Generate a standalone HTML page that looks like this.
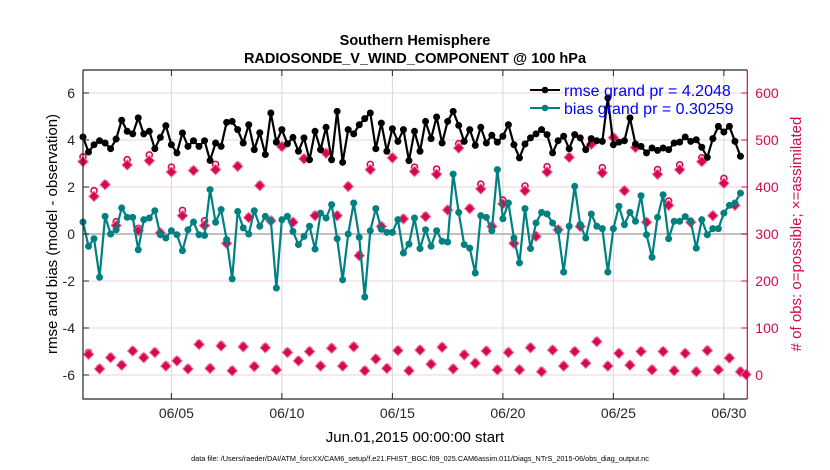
<!DOCTYPE html>
<html><head><meta charset="utf-8"><style>
body{margin:0;background:#fff;}
svg{display:block;font-family:"Liberation Sans",Arial,sans-serif;}
</style></head><body>
<svg id="chart" width="830" height="470" viewBox="0 0 830 470" xmlns="http://www.w3.org/2000/svg">
<text x="415" y="45" text-anchor="middle" font-size="14.5" font-weight="bold">Southern Hemisphere</text>
<text x="415" y="63" text-anchor="middle" font-size="14.5" font-weight="bold">RADIOSONDE_V_WIND_COMPONENT @ 100 hPa</text>
<g id="grid"></g>
<g id="marks"></g>
<g id="axes"></g>
<text transform="translate(57,234) rotate(-90)" text-anchor="middle" font-size="15">rmse and bias (model - observation)</text>
<text transform="translate(801,234) rotate(-90)" text-anchor="middle" font-size="15" fill="#d6084f">#  of obs: o=possible; ×=assimilated</text>
<text x="415" y="442" text-anchor="middle" font-size="15">Jun.01,2015 00:00:00 start</text>
<text x="420" y="461" text-anchor="middle" font-size="7.3">data file: /Users/raeder/DAI/ATM_forcXX/CAM6_setup/f.e21.FHIST_BGC.f09_025.CAM6assim.011/Diags_NTrS_2015-06/obs_diag_output.nc</text>
<g>
<line x1="530" y1="90" x2="560" y2="90" stroke="#000" stroke-width="2"/>
<circle cx="545" cy="90" r="3.3" fill="#000"/>
<text x="564" y="96" font-size="16" fill="#0000ff">rmse grand pr = 4.2048</text>
<line x1="530" y1="108" x2="560" y2="108" stroke="#008080" stroke-width="2"/>
<circle cx="545" cy="108" r="3.3" fill="#008080"/>
<text x="564" y="114" font-size="16" fill="#0000ff">bias grand pr = 0.30259</text>
</g>
</svg>
<script>
const rmse = [4.13,3.49,3.80,3.97,3.87,3.63,4.04,4.84,4.37,4.26,4.94,4.26,4.37,3.63,4.11,4.61,3.80,3.45,4.30,3.73,3.97,3.73,3.97,3.13,3.87,3.73,4.75,4.79,4.44,3.87,
4.65,3.59,4.31,3.38,5.15,3.91,4.44,3.84,4.11,3.52,4.09,3.16,4.37,3.59,4.54,3.16,5.22,3.05,4.44,4.26,4.65,4.91,5.15,3.63,4.72,3.52,4.48,3.94,4.44,3.12,
4.37,3.52,4.79,4.06,4.98,3.87,4.79,5.22,4.62,3.94,4.44,3.77,4.54,3.87,4.20,3.91,4.16,4.65,3.80,3.24,3.83,4.09,4.26,4.44,4.23,3.45,3.97,4.16,3.63,4.23,
4.09,3.59,4.06,3.97,3.94,5.79,3.80,3.91,3.97,4.94,3.83,3.73,3.45,3.66,3.56,3.66,3.59,3.87,3.91,4.13,3.94,4.01,3.69,3.26,4.06,4.58,4.34,4.58,3.94,3.31];
const bias = [0.51,-0.52,-0.20,-1.84,0.75,0,0.18,1.11,0.71,0.71,-0.67,0.61,0.68,0.99,-0.03,-0.17,0.14,-0.03,-0.71,0.18,0.51,-0.03,-0.06,1.89,0.50,1.04,-0.24,-1.91,0.96,0.26,
0,0.99,0.33,0.75,0.57,-2.30,0.61,0.75,0.11,-0.45,-0.10,0.33,-0.64,0.89,0.68,1.25,-0.20,-1.95,0,1.32,-0.14,-2.68,0.14,1.08,0.20,0.07,0.07,0.61,-0.81,-0.43,
0.68,-0.62,0.18,-0.52,0.14,-0.31,-0.34,2.55,0.92,-0.45,-0.60,-1.66,0.78,0.71,0.14,2.74,0.65,1.32,-0.17,-1.23,1.08,-0.62,0.47,0.92,0.85,0.47,0.14,-1.62,0.33,2.03,
0.40,-0.17,0.85,0.33,0.23,-1.62,0.23,1.18,0.40,0.92,0.54,1.63,-0.03,-0.99,0.71,1.67,-0.20,0.54,0.54,0.74,0.54,-0.60,0.61,-0.03,0.23,0.23,0.89,1.22,1.32,1.74];
const nUsed = [454,44,380,13,405,37,318,21,447,51,307,37,456,48,302,19,432,30,339,13,435,65,318,14,437,62,280,9,444,60,
335,18,403,58,328,11,486,48,325,30,460,50,339,19,472,57,339,19,401,60,254,9,437,34,316,14,462,52,332,9,
433,53,337,23,427,59,351,13,483,43,354,25,396,51,316,11,364,48,280,11,392,58,295,7,432,53,309,19,463,50,
316,25,491,71,430,19,505,46,392,21,484,50,325,11,427,50,361,9,437,46,325,7,454,52,339,11,408,36,361,7,1];
const nPoss = [462,46,390,13,405,37,324,21,456,51,310,37,466,48,302,19,440,30,348,13,435,65,326,14,446,62,280,9,444,60,
335,18,403,58,328,11,486,48,325,30,460,50,339,19,472,57,339,19,401,60,254,9,446,34,316,14,462,52,332,9,
440,53,337,23,436,59,351,13,490,43,354,25,404,51,316,11,370,48,280,11,400,58,295,7,441,53,309,19,463,50,
316,25,491,71,439,19,505,46,392,21,484,50,325,11,435,50,368,9,445,46,325,7,460,52,339,11,416,36,361,7,1];
const dayTicks = [4,9,14,19,24,29];
const dayTickLabels = ["06/05","06/10","06/15","06/20","06/25","06/30"];
const leftTicks = [-6,-4,-2,0,2,4,6];
const rightTicks = [0,100,200,300,400,500,600];
const stepDays = 0.25;

const X0=83, X1=747.3, Y0=70, Y1=399;
const xS = d => X0 + d*(X1-X0)/30.06;
const yL = v => 234 - v*23.5;
const yR = c => 375 - c*0.47;
const NS="http://www.w3.org/2000/svg";
function mk(tag, parent, attrs){const e=document.createElementNS(NS,tag);for(const k in attrs)e.setAttribute(k,attrs[k]);parent.appendChild(e);return e;}
const grid=document.getElementById('grid'), marks=document.getElementById('marks'), axes=document.getElementById('axes');

leftTicks.forEach(v=>{const g=mk('line',grid,{x1:X0,x2:X1,y1:yL(v),y2:yL(v),stroke:'#f3cfe0','stroke-width':1});

});
dayTicks.forEach(d=>{const g=mk('line',grid,{x1:xS(d),x2:xS(d),y1:Y0,y2:Y1,stroke:'#d8d8d8','stroke-width':1});

});
const zl=mk('line',grid,{x1:X0,x2:X1,y1:yL(0),y2:yL(0),stroke:'#c0c0c0','stroke-width':2});



// obs count markers
nPoss.forEach((c,i)=>{const x=xS(i*stepDays), y=yR(c);
const o=mk('circle',marks,{cx:x,cy:y-1,r:3,fill:'none',stroke:'#d6084f','stroke-width':1.6});

});
nUsed.forEach((c,i)=>{const x=xS(i*stepDays), y=yR(c);
const p=mk('path',marks,{d:`M${x} ${y-5.2}L${x+5.2} ${y}L${x} ${y+5.2}L${x-5.2} ${y}Z`,fill:'#d6084f',stroke:'#ec7aa4','stroke-width':1});

});

function series(vals,color,name){
  const d=vals.map((v,i)=>(i?'L':'M')+xS(i*stepDays).toFixed(2)+' '+yL(v).toFixed(2)).join('');
  const l=mk('path',marks,{d:d,fill:'none',stroke:color,'stroke-width':2.2,'stroke-linejoin':'round'});
  
  
  vals.forEach((v,i)=>{const c=mk('circle',marks,{cx:xS(i*stepDays),cy:yL(v),r:3.5,fill:color});
  
  });
}
series(bias,'#008080','bias');
series(rmse,'#000000','rmse');

// axes frame
const fr=mk('path',axes,{d:`M${X0} ${Y0}H${X1}M${X0} ${Y0}V${Y1}H${X1}`,fill:'none',stroke:'#262626','stroke-width':1.2});


const ra=mk('line',axes,{x1:X1,x2:X1,y1:Y0,y2:Y1,stroke:'#d6084f','stroke-width':1.2});


leftTicks.forEach(v=>{
  const t=mk('line',axes,{x1:X0,x2:X0+6,y1:yL(v),y2:yL(v),stroke:'#262626'});
  
  
  const tx=mk('text',axes,{x:X0-8,y:yL(v)+5,'text-anchor':'end','font-size':14,fill:'#262626'});tx.textContent=String(v);
  
  });
rightTicks.forEach(c=>{
  const t=mk('line',axes,{x1:X1-6,x2:X1,y1:yR(c),y2:yR(c),stroke:'#d6084f'});
  
  
  const tx=mk('text',axes,{x:X1+8,y:yR(c)+5,'font-size':14,fill:'#d6084f'});tx.textContent=String(c);
  
  });
dayTicks.forEach((d,k)=>{
  const t=mk('line',axes,{x1:xS(d),x2:xS(d),y1:Y1,y2:Y1-6,stroke:'#262626'});
  
  
  const t2=mk('line',axes,{x1:xS(d),x2:xS(d),y1:Y0,y2:Y0+6,stroke:'#262626'});
  
  
  const tx=mk('text',axes,{x:xS(d)+5,y:418,'text-anchor':'middle','font-size':14,fill:'#262626'});tx.textContent=dayTickLabels[k];
  
  });
</script>
</body></html>
